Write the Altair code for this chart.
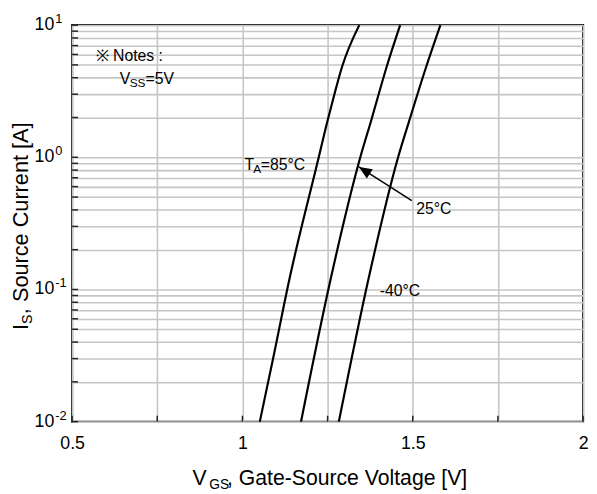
import altair as alt
import pandas as pd

FONT = "Liberation Sans"

# ---- curve data (V_GS [V], I_S [A]) ----
v_85 = [1.051, 1.090, 1.138, 1.224, 1.250, 1.270, 1.292, 1.343]
i_85 = [0.01, 0.03, 0.12, 1.0, 1.9, 3.0, 4.8, 10]
v_25 = [1.172, 1.259, 1.346, 1.378, 1.423, 1.463]
i_25 = [0.01, 0.12, 1.0, 1.9, 4.8, 10]
v_m40 = [1.283, 1.370, 1.457, 1.490, 1.539, 1.581]
i_m40 = [0.01, 0.12, 1.0, 1.9, 4.8, 10]
series = ["85", "25", "-40"]

# ---- axes ----
x_ticks = [0.5, 0.75, 1.0, 1.25, 1.5, 1.75, 2.0]
y_ticks = [0.01, 0.02, 0.03, 0.04, 0.05, 0.06, 0.07, 0.08, 0.09,
           0.1, 0.2, 0.3, 0.4, 0.5, 0.6, 0.7, 0.8, 0.9,
           1, 2, 3, 4, 5, 6, 7, 8, 9, 10]
y_label_vals = [10, 1, 0.1, 0.01]
y_label_exp = ["1", "0", "-1", "-2"]

# ---- annotations (anchors in data coordinates) ----
note_pos = [0.569, 5.35]
vss_pos = [0.640, 3.6]
ta_pos = [1.006, 0.798]
t25_pos = [1.510, 0.375]
tm40_pos = [1.403, 0.0893]
arrow_tail = [1.497, 0.471]
arrow_tip = [1.342, 0.845]
arrow_head = [1.358, 0.796]

W, H = 518, 402
xs = alt.Scale(type="linear", domain=[0.5, 2.0], nice=False, zero=False)
ys = alt.Scale(type="log", domain=[0.01, 10], nice=False)

x_lab = "datum.value == 0.5 ? '0.5' : datum.value == 1 ? '1' : datum.value == 1.5 ? '1.5' : datum.value == 2 ? '2' : ''"
X_AXIS = alt.Axis(values=x_ticks, grid=True, domain=False, ticks=False, title=None,
                  labelExpr=x_lab, labelFont=FONT, labelFontSize=18, labelColor="black",
                  labelPadding=13, labelFlush=False, labelOverlap=False,
                  gridColor="#c6c6c6", gridWidth=1.6)
Y_AXIS = alt.Axis(values=y_ticks, grid=True, domain=False, ticks=False, labels=False, title=None,
                  gridColor="#c6c6c6", gridWidth=1.6)


def X(f="V:Q"):
    return alt.X(f, scale=xs, axis=X_AXIS)


def Y(f="I:Q"):
    return alt.Y(f, scale=ys, axis=Y_AXIS)


rows = []
for name, vv, ii in [("85", v_85, i_85), ("25", v_25, i_25), ("-40", v_m40, i_m40)]:
    for a, b in zip(vv, ii):
        rows.append({"T": name, "V": a, "I": b})
curves = pd.DataFrame(rows)

curve_layer = alt.Chart(curves).mark_line(interpolate="monotone", strokeWidth=2.2, color="black").encode(
    x=X(), y=Y(), detail="T:N")

# inside ticks
xt_df = pd.DataFrame({"V": x_ticks})
x_tick_layer = alt.Chart(xt_df).mark_rule(color="#222222", strokeWidth=1.5).encode(
    x=X(), y=alt.value(H), y2=alt.value(H - 6))
yt_df = pd.DataFrame({"I": y_ticks})
y_tick_layer = alt.Chart(yt_df).mark_rule(color="#222222", strokeWidth=1.5).encode(
    y=Y(), x=alt.value(0), x2=alt.value(6))

# y tick labels (10 with superscript exponent)
yl_df = pd.DataFrame({"I": y_label_vals, "base": ["10"] * 4, "exp": y_label_exp})
y_lab_base = alt.Chart(yl_df).mark_text(font=FONT, fontSize=18, align="right", baseline="middle", color="black").encode(
    y=Y(), x=alt.value(-18), text="base:N")
y_lab_exp = alt.Chart(yl_df).mark_text(font=FONT, fontSize=13, align="left", baseline="middle", color="black", dy=-6).encode(
    y=Y(), x=alt.value(-17), text="exp:N")


def dtext(pos, s, size, dx=0, dy=0):
    df = pd.DataFrame({"V": [pos[0]], "I": [pos[1]], "t": [s]})
    return alt.Chart(df).mark_text(font=FONT, fontSize=size, align="left", baseline="alphabetic",
                                   color="black", dx=dx, dy=dy).encode(
        x=X(), y=Y(), text="t:N")


def ptext(x, y, s, size, angle=0):
    df = pd.DataFrame({"t": [s]})
    return alt.Chart(df).mark_text(font=FONT, fontSize=size, align="left", baseline="alphabetic",
                                   color="black", angle=angle).encode(
        x=alt.value(x), y=alt.value(y), text="t:N")


ann = [
    dtext(note_pos, "※ Notes :", 16),
    dtext(vss_pos, "V", 16),
    dtext(vss_pos, "SS", 12, dx=10, dy=3),
    dtext(vss_pos, "=5V", 16, dx=26),
    dtext(ta_pos, "T", 16),
    dtext(ta_pos, "A", 12, dx=9, dy=3),
    dtext(ta_pos, "=85°C", 16, dx=16.5),
    dtext(t25_pos, "25°C", 16),
    dtext(tm40_pos, "-40°C", 16),
]

arrow_df = pd.DataFrame({"V": [arrow_tail[0]], "I": [arrow_tail[1]], "V2": [arrow_tip[0]], "I2": [arrow_tip[1]]})
arrow_line = alt.Chart(arrow_df).mark_rule(color="black", strokeWidth=1.5).encode(
    x=X(), y=Y(), x2="V2:Q", y2="I2:Q")
head_df = pd.DataFrame({"V": [arrow_head[0]], "I": [arrow_head[1]]})
arrow_hd = alt.Chart(head_df).mark_point(shape="M0,-1L0.85,1L-0.85,1Z", size=169, filled=True,
                                         color="black", opacity=1, angle=303).encode(
    x=X(), y=Y())

titles = [
    ptext(122, 466, "V", 21.5),
    ptext(139, 470, "GS", 14),
    ptext(157, 466, ", Gate-Source Voltage [V]", 21.5),
    ptext(-45, 309, "I", 22, angle=270),
    ptext(-41, 303, "S", 14.5, angle=270),
    ptext(-45, 293, ", Source Current [A]", 22, angle=270),
]

chart = alt.layer(
    curve_layer, x_tick_layer, y_tick_layer, y_lab_base, y_lab_exp,
    *ann, arrow_line, arrow_hd, *titles
).properties(
    width=W, height=H,
    padding={"left": 65, "top": 14, "right": 6, "bottom": 70},
    autosize=alt.AutoSizeParams(type="none"),
    background="white",
).configure_view(stroke="black", strokeWidth=2)

chart.save("out.html", embed_options={"renderer": "svg", "actions": False})
